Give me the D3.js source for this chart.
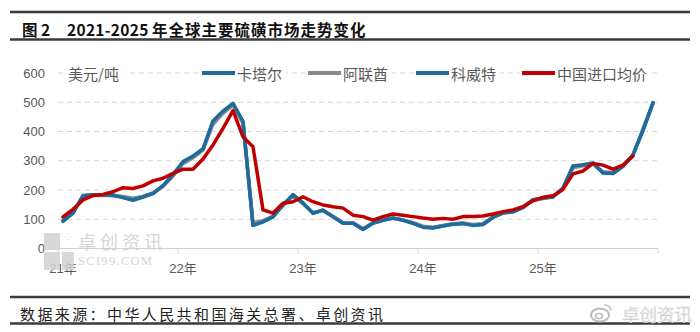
<!DOCTYPE html>
<html><head><meta charset="utf-8">
<script src="https://cdn.jsdelivr.net/npm/d3@7"></script>
<style>
body{margin:0;background:#fff;}
svg{display:block;}
</style></head>
<body><svg id="c" width="700" height="332"></svg>
<script>
// ---- data ----
const yearLabels = ["21年","22年","23年","24年","25年"];
const yTicks = [0,100,200,300,400,500,600];
const seriesNames = ["卡塔尔","阿联酋","科威特","中国进口均价"];
const qatar = [95,122,180,183,183,183,175,166,177,189,214,251,295,314,339,433,468,494,433,80,
  92,109,149,183,155,121,131,109,87,87,66,87,97,104,97,87,74,71,78,84,
  86,80,83,107,122,126,141,166,172,177,206,280,285,291,259,257,282,320,405,498];
const uae = [97,124,178,181,182,180,178,172,178,190,212,248,290,310,336,425,462,490,428,88,
  95,110,146,180,153,123,130,110,89,88,68,88,98,103,98,88,76,73,79,85,
  87,82,85,108,121,127,142,165,171,178,204,276,283,289,262,260,283,318,410,496];
const kuwait = [93,121,181,184,183,182,174,165,176,188,215,252,297,316,341,436,470,496,435,79,
  91,108,150,184,156,120,131,108,86,86,65,86,96,104,96,86,73,70,77,83,
  85,79,82,106,122,125,140,167,173,176,207,282,286,292,258,256,281,321,404,499];
const china = [108,134,166,181,185,194,208,205,214,231,240,257,271,271,306,354,411,471,382,348,
  132,121,155,160,177,160,149,143,138,114,109,97,109,118,114,109,104,100,103,100,
  109,109,111,118,126,132,143,163,175,180,202,255,265,291,285,271,285,316];
const colors = ["#1e6c9e","#8a8a8a","#1e6c9e","#c00000"];

const months = d3.timeMonth.range(new Date(2021,0,1), new Date(2026,0,1));

const svg = d3.select("#c");
const font = "'Liberation Sans','Noto Sans CJK SC',sans-serif";

// ---- title & footer ----
svg.append("line").attr("x1",10).attr("x2",690).attr("y1",12).attr("y2",12).attr("stroke","#3a3a3a").attr("stroke-width",2.5);
svg.append("line").attr("x1",10).attr("x2",690).attr("y1",39.5).attr("y2",39.5).attr("stroke","#3a3a3a").attr("stroke-width",2.5);
const title = svg.append("text").attr("y",29).attr("dominant-baseline","central")
  .attr("font-family","'Noto Sans CJK SC',sans-serif").attr("font-weight","bold").attr("font-size",15.5).attr("fill","#111");
title.append("tspan").attr("x",22).text("图 2");
title.append("tspan").attr("x",67).attr("letter-spacing",0.3).text("2021-2025");
title.append("tspan").attr("x",152).attr("letter-spacing",1).text("年全球主要硫磺市场走势变化");

svg.append("line").attr("x1",10).attr("x2",690).attr("y1",297).attr("y2",297).attr("stroke","#3a3a3a").attr("stroke-width",2.5);
svg.append("line").attr("x1",10).attr("x2",690).attr("y1",323.5).attr("y2",323.5).attr("stroke","#3a3a3a").attr("stroke-width",2.5);
svg.append("text").attr("x",20).attr("y",313).attr("dominant-baseline","central")
  .attr("font-family","'Noto Sans CJK SC',sans-serif").attr("font-size",15).attr("letter-spacing",2.4).attr("fill","#222")
  .text("数据来源：中华人民共和国海关总署、卓创资讯");

// ---- scales ----
const x = d3.scaleBand().domain(months).range([58,658]).padding(0);
const y = d3.scaleLinear().domain([0,600]).range([248.5,73]);
const xc = d => x(d) + x.bandwidth()/2;

// grid
svg.append("g").selectAll("line").data(yTicks.filter(v=>v>0)).join("line")
  .attr("x1",58).attr("x2",658).attr("y1",d=>y(d)).attr("y2",d=>y(d))
  .attr("stroke","#d6d6d6").attr("stroke-width",1).attr("stroke-dasharray","5,4");

// y labels
svg.append("g").selectAll("text").data(yTicks).join("text")
  .attr("x",45).attr("y",d=>y(d)).attr("text-anchor","end").attr("dominant-baseline","central")
  .attr("font-family",font).attr("font-size",13).attr("fill","#595959").text(d=>d);

// x axis
const jan = months.filter(m=>m.getMonth()===0);
const xAxis = d3.axisBottom(x).tickValues(jan).tickSize(5).tickFormat((d,i)=>yearLabels[i]);
const gx = svg.append("g").attr("transform","translate(0,248.5)").call(xAxis);
gx.select(".domain").attr("stroke","#d0d0d0").attr("d","M58,0H658");
gx.selectAll(".tick line").attr("stroke","#d0d0d0");
gx.selectAll(".tick").attr("transform",d=>`translate(${x(d)},0)`);
gx.append("line").attr("x1",658).attr("x2",658).attr("y1",0).attr("y2",5).attr("stroke","#d0d0d0");
gx.selectAll(".tick text").attr("x",5).attr("y",20).attr("dy",null).attr("dominant-baseline","central")
  .attr("font-family",font).attr("font-size",13).attr("fill","#595959");

// ---- watermark (plot) ----
const wm = svg.append("g").attr("opacity",0.85);
wm.append("rect").attr("x",44).attr("y",233).attr("width",16).attr("height",17).attr("fill","#d2d2d2");
wm.append("rect").attr("x",44).attr("y",252).attr("width",16).attr("height",18).attr("fill","#d2d2d2");
wm.append("rect").attr("x",62).attr("y",252).attr("width",12).attr("height",18).attr("fill","#d2d2d2");
wm.append("text").attr("x",64).attr("y",240).attr("font-family","'Liberation Sans',sans-serif").attr("font-size",9).attr("fill","#c8c8c8").text("⁘");
wm.append("text").attr("x",78).attr("y",241).attr("dominant-baseline","central")
  .attr("font-family","'Noto Sans CJK SC',sans-serif").attr("font-size",18).attr("fill","#cfcfcf").attr("letter-spacing",4).text("卓创资讯");
wm.append("text").attr("x",78).attr("y",260.5).attr("dominant-baseline","central")
  .attr("font-family","'Liberation Serif',serif").attr("font-size",12.5).attr("fill","#cfcfcf").attr("letter-spacing",1.3).text("SCI99.COM");

// ---- lines ----
const line = d3.line().x((d,i)=>xc(months[i])).y(d=>y(d)).curve(d3.curveLinear);
const all = [qatar, uae, kuwait, china];
all.forEach((s,k)=>{
  svg.append("path").datum(s).attr("d",line).attr("fill","none")
    .attr("stroke",colors[k]).attr("stroke-width",3.5).attr("stroke-linejoin","round").attr("stroke-linecap","round");
});

// ---- unit & legend ----
const ly = y(600);
svg.append("rect").attr("x",65).attr("y",ly-9).attr("width",64).attr("height",18).attr("fill","#fff");
svg.append("text").attr("x",68).attr("y",ly).attr("dominant-baseline","central")
  .attr("font-family","'Noto Sans CJK SC',sans-serif").attr("font-size",15).attr("fill","#595959").text("美元/吨");
const legX = [202,308,416,522];
seriesNames.forEach((n,k)=>{
  const g = svg.append("g");
  const tw = n.length*15;
  g.append("rect").attr("x",legX[k]-2).attr("y",ly-9).attr("width",33+4+tw+4).attr("height",18).attr("fill","#fff");
  g.append("line").attr("x1",legX[k]).attr("x2",legX[k]+33).attr("y1",ly).attr("y2",ly)
    .attr("stroke",colors[k]).attr("stroke-width",4);
  g.append("text").attr("x",legX[k]+35).attr("y",ly).attr("dominant-baseline","central")
    .attr("font-family","'Noto Sans CJK SC',sans-serif").attr("font-size",15).attr("fill","#595959").text(n);
});

// ---- watermark (corner) ----
const cw = svg.append("g");
cw.append("ellipse").attr("cx",600).attr("cy",315).attr("rx",9).attr("ry",6.5).attr("fill","none").attr("stroke","#bdbdbd").attr("stroke-width",2);
cw.append("ellipse").attr("cx",599).attr("cy",316).attr("rx",3.5).attr("ry",2.5).attr("fill","none").attr("stroke","#bdbdbd").attr("stroke-width",1.5);
cw.append("path").attr("d","M604,305 a6,6 0 0 1 7,6").attr("fill","none").attr("stroke","#bdbdbd").attr("stroke-width",1.5);
cw.append("text").attr("x",622).attr("y",313).attr("dominant-baseline","central")
  .attr("font-family","'Noto Sans CJK SC',sans-serif").attr("font-size",17.5).attr("fill","#c4c4c4")
  .attr("stroke","#e8e8e8").attr("stroke-width",0.6).text("卓创资讯");
</script></body></html>
